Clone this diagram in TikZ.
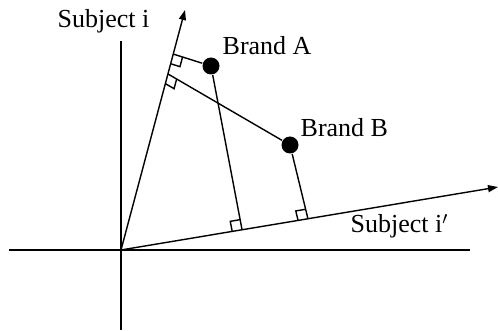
\documentclass[tikz,border=0pt]{standalone}
\usepackage{fontspec}
\setmainfont{Liberation Serif}
\usetikzlibrary{calc,arrows.meta}
\tikzset{
  brand/.style={circle,fill,inner sep=0pt,minimum size=8.5pt},
  axis/.style={line width=1pt},
  label/.style={anchor=base west,inner sep=0pt},
}
% right-angle mark at foot #1, towards #2 along the axis and #3 along the drop
\newcommand{\perpmark}[3]{%
  \draw ($(#1)!5pt!(#2)$) -- ($(#1)!5pt!(#2) + (#1)!5pt!(#3) - (#1)$) -- ($(#1)!5pt!(#3)$);}
\begin{document}
\begin{tikzpicture}[x=0.5pt,y=-0.5pt,line width=0.7pt,every node/.style={font=\fontsize{13}{15}\selectfont}]
  \useasboundingbox (0,0) rectangle (498,331);
  \coordinate (O) at (121,250);
  \coordinate (xl) at (9,250); \coordinate (xr) at (470,250);
  \coordinate (yt) at (121,41); \coordinate (yb) at (121,330);
  \coordinate (ti) at (185,10); \coordinate (tj) at (498,187);
  \draw[axis] (xl) -- (xr);
  \draw[axis] (yt) -- (yb);
  \draw[-{Triangle[length=5pt,width=3.5pt]}] (O) -- (ti);
  \draw[-{Triangle[length=5pt,width=3.5pt]}] (O) -- (tj);
  \node[label] (li) at (57,28) {Subject i};
  \node[label] (lj) at (350,233) {Subject i$'$};
  % brands and their drops
  \node[brand] (A) at (211,66) {};
  \node[brand] (B) at (290,145) {};
  \node[label] (la) at (222,55) {Brand A};
  \node[label] (lb) at (300,137) {Brand B};
  \coordinate (fAi) at (173,54); \coordinate (fBi) at (168,74);
  \coordinate (fAj) at (242,229.5); \coordinate (fBj) at (308,219);
  \foreach \b in {A,B} {
    \draw (\b) -- (f\b i);
    \draw (\b) -- (f\b j);
    \perpmark{f\b i}{O}{\b}
    \perpmark{f\b j}{O}{\b}
  }
\end{tikzpicture}
\end{document}
